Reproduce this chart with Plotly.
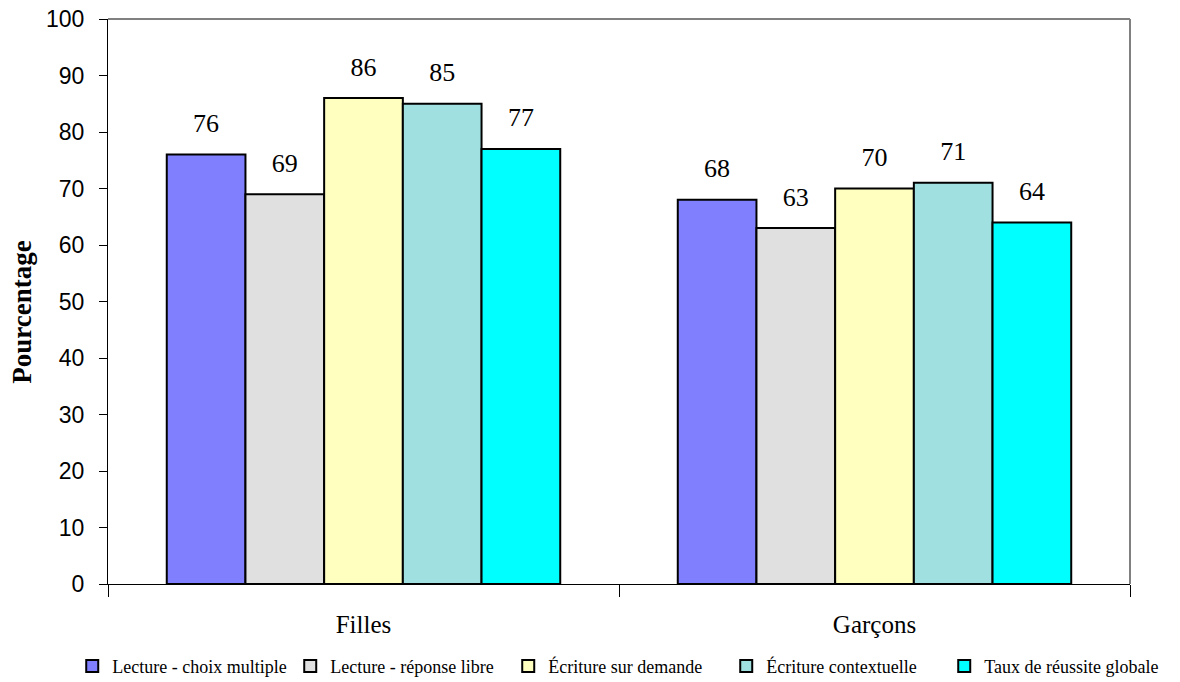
import plotly.graph_objects as go

categories = ["Filles", "Garçons"]
series_names = [
    "Lecture - choix multiple",
    "Lecture - réponse libre",
    "Écriture sur demande",
    "Écriture contextuelle",
    "Taux de réussite globale",
]
series_values = [
    [76, 68],
    [69, 63],
    [86, 70],
    [85, 71],
    [77, 64],
]
series_colors = ["#8080FF", "#E0E0E0", "#FFFFC0", "#A0E0E0", "#00FFFF"]
y_ticks = [0, 10, 20, 30, 40, 50, 60, 70, 80, 90, 100]
y_title = "Pourcentage"

SERIF = "Liberation Serif, Times New Roman, serif"
SANS = "Liberation Sans, Arial, sans-serif"

fig = go.Figure()
for i, (name, vals, col) in enumerate(zip(series_names, series_values, series_colors)):
    fig.add_trace(go.Bar(
        name=name, x=categories, y=vals, offsetgroup=str(i),
        marker=dict(color=col, line=dict(color="black", width=2)),
    ))
for i, vals in enumerate(series_values):
    fig.add_trace(go.Scatter(
        x=categories, y=vals, offsetgroup=str(i), mode="markers+text",
        marker=dict(size=24, opacity=0), text=[str(v) for v in vals],
        textposition="top center", showlegend=False, hoverinfo="skip",
        textfont=dict(family=SERIF, size=26, color="black"), cliponaxis=False,
    ))

FW, FH = 1180, 682
L, R, T, B = 108, 50, 19, 98
fig.update_layout(
    width=FW, height=FH,
    margin=dict(l=L, r=R, t=T, b=B, autoexpand=False),
    paper_bgcolor="white", plot_bgcolor="white",
    barmode="group", bargap=0.23, bargroupgap=0,
    scattermode="group", scattergap=0.23,
    showlegend=True,
    legend=dict(
        orientation="h", x=-0.035, y=-0.113, xanchor="left", yanchor="top",
        font=dict(family=SERIF, size=18, color="black"),
        itemwidth=30, tracegroupgap=0,
        entrywidth=173, entrywidthmode="pixels",
    ),
    xaxis=dict(
        tickson="boundaries", ticks="outside", ticklen=12, tickcolor="black",
        showline=True, linecolor="black", linewidth=1,
        tickfont=dict(family=SERIF, size=25, color="black"),
        ticklabelstandoff=18,
        showgrid=False,
    ),
    yaxis=dict(
        range=[0, 100], tickvals=y_ticks, ticks="outside", ticklen=8,
        tickcolor="black", showline=True, linecolor="black", linewidth=1,
        tickfont=dict(family=SANS, size=23, color="black"),
        ticklabelstandoff=10, ticklabeloverflow="allow",
        showgrid=False, zeroline=False,
    ),
    shapes=[
        dict(type="line", xref="paper", yref="paper", x0=0, x1=1, y0=1, y1=1,
             line=dict(color="#808080", width=2)),
        dict(type="line", xref="paper", yref="paper", x0=1, x1=1, y0=0, y1=1,
             line=dict(color="#808080", width=2)),
    ],
    annotations=[
        dict(text="<b>" + y_title + "</b>", textangle=-90, xref="paper", yref="paper",
             x=0, y=0.48, xanchor="center", yanchor="middle", xshift=-86,
             showarrow=False, font=dict(family=SERIF, size=27, color="black")),
    ],
)

# remove the default 8px page margin so the figure fills the window exactly
fig.write_html(
    "out.html",
    config={"displayModeBar": False},
    post_script="document.body.style.margin='0';document.body.style.overflow='hidden';",
)
